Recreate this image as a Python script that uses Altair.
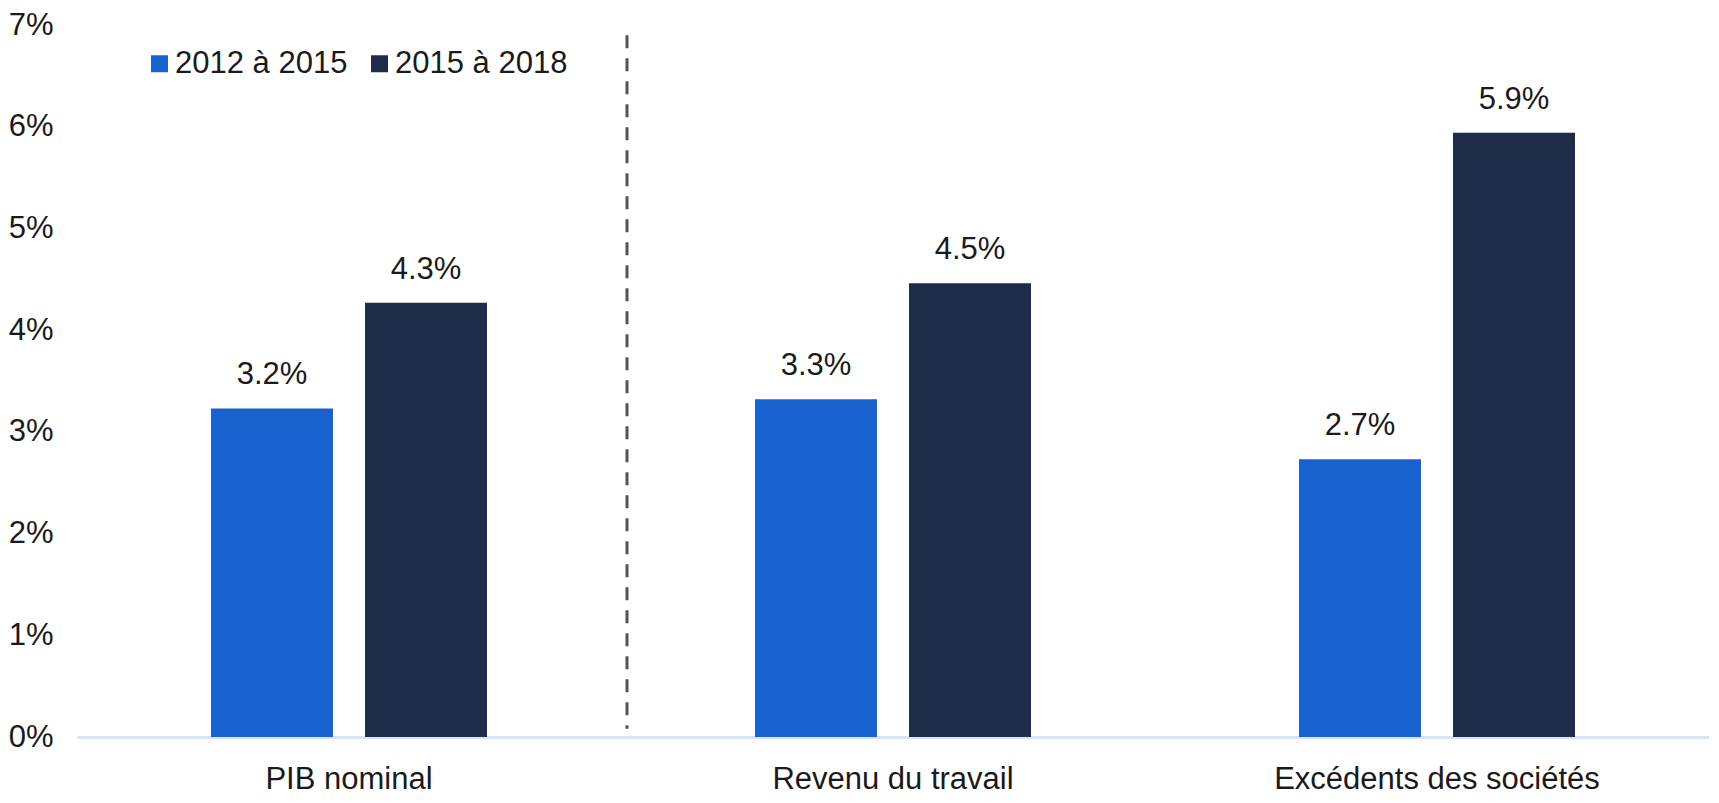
import altair as alt
import pandas as pd

# ---- data ----
categories = ["PIB nominal", "Revenu du travail", "Excédents des sociétés"]
periods = ["2012 à 2015", "2015 à 2018"]
growth_2012_2015 = [0.0323, 0.0332, 0.0273]
growth_2015_2018 = [0.0427, 0.0446, 0.0594]
y_ticks = [0, 0.01, 0.02, 0.03, 0.04, 0.05, 0.06, 0.07]
bar_colors = ["#1961ce", "#1e2c49"]

FONT = "Liberation Sans"
TXT = "#1a1a1a"
FS = 31

rows = []
for c, a, b in zip(categories, growth_2012_2015, growth_2015_2018):
    rows.append({"cat": c, "period": periods[0], "value": a})
    rows.append({"cat": c, "period": periods[1], "value": b})
df = pd.DataFrame(rows)
sep_df = pd.DataFrame({"cat": [categories[1]]})

x_scale = alt.Scale(domain=categories, paddingInner=0, paddingOuter=0)
x_axis = alt.Axis(
    labelAngle=0, labelFontSize=FS, labelFont=FONT, labelColor=TXT,
    labelPadding=27, labelLimit=0, ticks=False, domain=True,
    domainColor="#d6e4f6", domainWidth=3, grid=False, title=None,
)
x = alt.X("cat:N", sort=categories, scale=x_scale, axis=x_axis, title=None)
xoff = alt.XOffset(
    "period:N", sort=periods,
    scale=alt.Scale(domain=periods, paddingInner=0.2078, paddingOuter=0.87),
)
y = alt.Y(
    "value:Q",
    scale=alt.Scale(domain=[0, 0.07], nice=False, zero=True),
    axis=alt.Axis(
        values=y_ticks, format=".0%", title=None, grid=False, domain=False,
        ticks=False, labelFontSize=FS, labelPadding=24, labelColor=TXT,
        labelFont=FONT, labelFlush=False, labelLimit=0,
    ),
    title=None,
)
color = alt.Color(
    "period:N", sort=periods,
    scale=alt.Scale(domain=periods, range=bar_colors),
    legend=alt.Legend(
        title=None, orient="none", legendX=67, legendY=23,
        direction="horizontal", symbolType="square", symbolSize=289,
        symbolStrokeWidth=0, labelFontSize=FS, labelFont=FONT,
        labelColor=TXT, labelOffset=0, columnPadding=16, padding=0,
        labelLimit=0,
    ),
)

bars = alt.Chart(df).mark_bar().encode(x=x, xOffset=xoff, y=y, color=color)

labels = alt.Chart(df).mark_text(
    baseline="middle", dy=-33, fontSize=FS, font=FONT, color=TXT
).encode(x=x, xOffset=xoff, y=y, text=alt.Text("value:Q", format=".1%"))

separator = alt.Chart(sep_df).mark_rule(
    color="#555555", strokeWidth=3, strokeDash=[13, 10], xOffset=6
).encode(
    x=alt.X("cat:N", sort=categories, scale=x_scale, bandPosition=0, axis=x_axis, title=None),
    y=alt.datum(0.069),
    y2=alt.datum(0.0008),
)

chart = (
    alt.layer(separator, bars, labels)
    .properties(
        width=1632, height=712, background="white",
        padding={"top": 1, "left": 0, "right": 0, "bottom": 0},
    )
    .configure_view(stroke=None)
)

chart.save("out.html", embed_options={"renderer": "svg", "actions": False})
